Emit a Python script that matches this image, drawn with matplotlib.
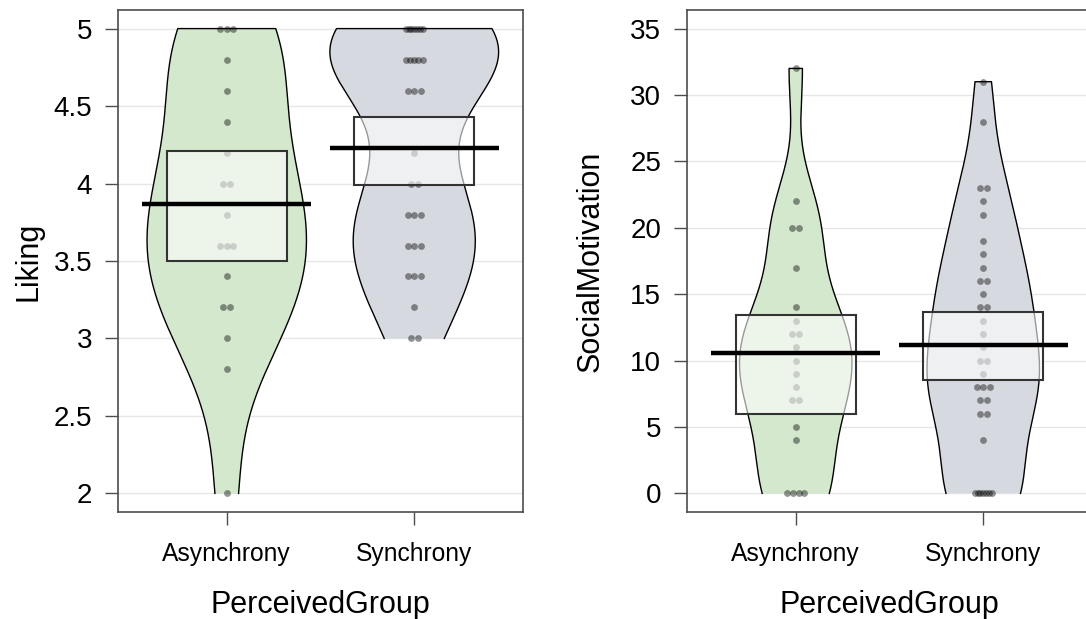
import numpy as np
import matplotlib
matplotlib.use("Agg")
import matplotlib.pyplot as plt
from matplotlib.patches import Rectangle

plt.rcParams['font.family'] = ['Liberation Sans', 'DejaVu Sans']

groups = ['Asynchrony', 'Synchrony']

# Liking scores per group
liking_async = [5, 5, 5, 4.8, 4.6, 4.4, 4.2, 4.0, 4.0, 3.8, 3.6, 3.6, 3.6,
                3.4, 3.2, 3.2, 3.0, 2.8, 2.0]
liking_sync = [5, 5, 5, 5, 5, 5, 5, 4.8, 4.8, 4.8, 4.8, 4.8, 4.6, 4.6, 4.6,
               4.2, 4.0, 4.0, 3.8, 3.8, 3.8, 3.6, 3.6, 3.6, 3.4, 3.4, 3.4,
               3.2, 3.0, 3.0]
liking_means = [3.87, 4.23]
liking_bands = [(3.50, 4.21), (3.99, 4.43)]

# SocialMotivation scores per group
social_async = [32, 22, 20, 20, 17, 14, 13, 12, 12, 11, 10, 9, 8, 7, 7, 5, 4,
                0, 0, 0, 0]
social_sync = [31, 28, 23, 23, 22, 21, 19, 18, 17, 16, 16, 15, 14, 14, 13, 12,
               11, 10, 10, 9, 8, 8, 8, 7, 7, 6, 6, 4, 0, 0, 0, 0, 0, 0, 0]
social_means = [10.6, 11.2]
social_bands = [(6.0, 13.45), (8.55, 13.65)]

bean_cols = ['#d3e8cc', '#d6dae0']


def bw_nrd0(x):
    x = np.asarray(x, float)
    sd = x.std(ddof=1)
    q1, q3 = np.percentile(x, [25, 75])
    lo = min(sd, (q3 - q1) / 1.34)
    if lo == 0:
        lo = sd
    return 0.9 * lo * len(x) ** -0.2


def bean_shape(vals):
    vals = np.asarray(vals, float)
    bw = bw_nrd0(vals)
    ys = np.linspace(vals.min(), vals.max(), 400)
    dens = np.exp(-0.5 * ((ys[:, None] - vals[None, :]) / bw) ** 2).sum(1)
    dens = dens / (len(vals) * bw * np.sqrt(2 * np.pi))
    # yarrr style rescaling between width.min and width.max
    if dens.max() > 0.45:
        dens = dens / dens.max() * 0.45
    elif dens.max() < 0.3:
        dens = dens / dens.max() * 0.3
    return ys, dens


def spread(vals):
    vals = np.asarray(vals, float)
    offs = np.zeros(len(vals))
    for v in np.unique(vals):
        idx = np.where(vals == v)[0]
        k = len(idx)
        if k > 1:
            step = min(0.035, 0.09 / (k - 1))
            offs[idx] = (np.arange(k) - (k - 1) / 2) * step
    return offs


def pirate(ax, data, means, bands, ylim, yticks, ylab, labx):
    for i, vals in enumerate(data):
        c = i + 1
        ys, w = bean_shape(vals)
        px = np.concatenate([c - w, (c + w)[::-1]])
        py = np.concatenate([ys, ys[::-1]])
        ax.fill(px, py, color=bean_cols[i], lw=0, zorder=1)
        ax.scatter(c + spread(vals), vals, s=24, color='black', alpha=0.42,
                   lw=0, zorder=2)
        ax.plot(px, py, color='black', lw=1.0, zorder=3)
        lo, hi = bands[i]
        ax.add_patch(Rectangle((c - 0.32, lo), 0.64, hi - lo,
                               facecolor=(1, 1, 1, 0.6), edgecolor='#333333',
                               lw=1.5, zorder=4))
        ax.plot([c - 0.45, c + 0.45], [means[i]] * 2, color='black', lw=3.2,
                solid_capstyle='butt', zorder=5)

    ax.set_xlim(0.42, 2.58)
    ax.set_ylim(*ylim)
    ax.set_yticks(yticks)
    ax.set_yticklabels([('%g' % t) for t in yticks], fontsize=20)
    ax.set_xticks([1, 2])
    ax.set_xticklabels(groups, fontsize=17.7)
    ax.yaxis.grid(True, color='#e6e6e6', lw=1.0)
    ax.set_axisbelow(True)
    for s in ax.spines.values():
        s.set_color('#4d4d4d')
        s.set_linewidth(1.2)
    ax.tick_params(axis='both', direction='out', length=9.5, width=1,
                   color='#4d4d4d', labelcolor='black')
    ax.tick_params(axis='y', pad=9)
    ax.tick_params(axis='x', pad=12)
    ax.set_ylabel(ylab, fontsize=22)
    ax.set_xlabel('PerceivedGroup', fontsize=22)
    ax.yaxis.set_label_coords(labx, 0.5)
    ax.xaxis.set_label_coords(0.5, -0.155)


fig = plt.figure(figsize=(10.86, 6.19), dpi=100)
ax1 = fig.add_axes([118 / 1086, 1 - 512 / 619, 405 / 1086, 502 / 619])
ax2 = fig.add_axes([687 / 1086, 1 - 512 / 619, 405 / 1086, 502 / 619])

pirate(ax1, [liking_async, liking_sync], liking_means, liking_bands,
       (1.88, 5.12), [2, 2.5, 3, 3.5, 4, 4.5, 5], 'Liking', -0.183)
pirate(ax2, [social_async, social_sync], social_means, social_bands,
       (-1.4, 36.4), [0, 5, 10, 15, 20, 25, 30, 35], 'SocialMotivation', -0.202)

fig.savefig('out.png', dpi=100)
